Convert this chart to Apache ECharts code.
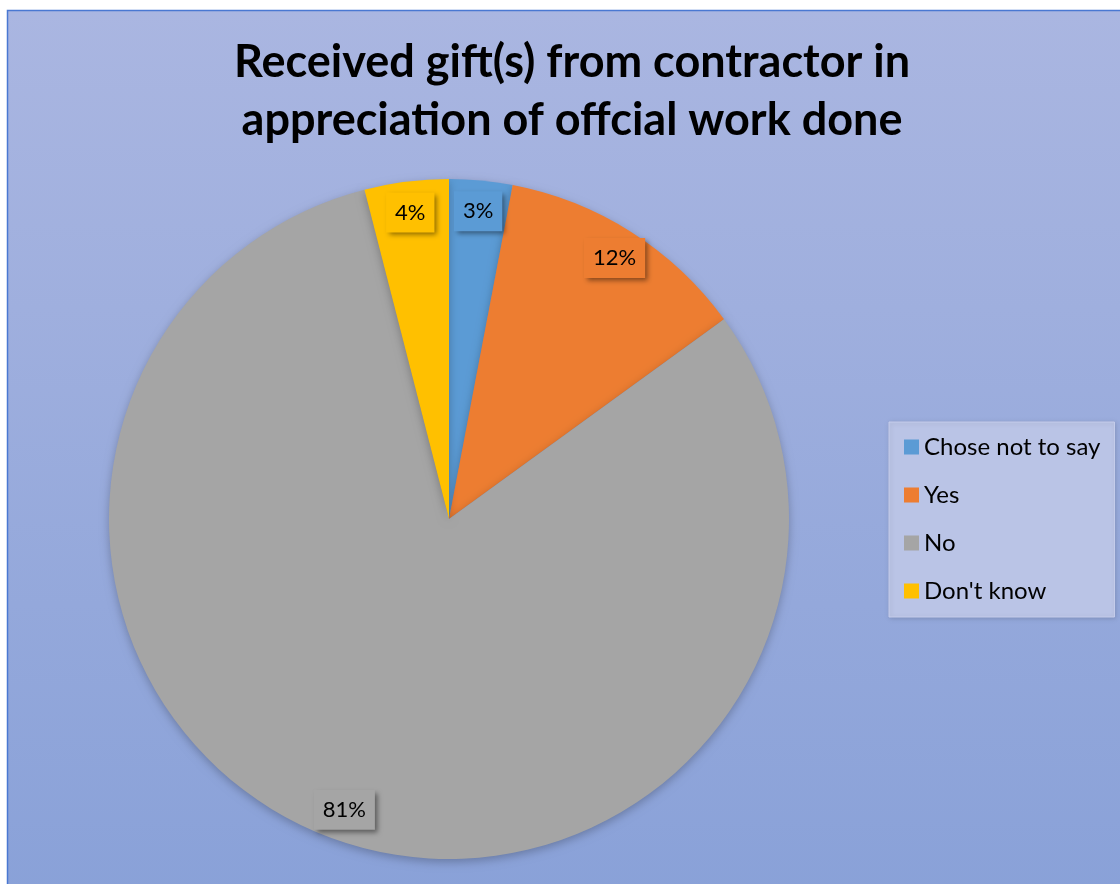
<!DOCTYPE html>
<html>
<head>
<meta charset="utf-8">
<script src="https://cdn.jsdelivr.net/npm/echarts@6/dist/echarts.min.js"></script>
<style>
  html, body { margin: 0; padding: 0; background: #ffffff; }
  #chart { width: 1120px; height: 884px; }
</style>
</head>
<body>
<div id="chart"></div>
<script>
// Survey answers and their shares (percent)
const categories = ['Chose not to say', 'Yes', 'No', "Don't know"];
const shares = [3, 12, 81, 4];
const sliceColors = ['#5b9bd5', '#ed7d31', '#a5a5a5', '#ffc000'];
const titleText = 'Received gift(s) from contractor in\nappreciation of offcial work done';

const pieData = categories.map((name, i) => ({ name: name, value: shares[i] }));
const fontFamily = 'Lato, "Open Sans", sans-serif';

const chart = echarts.init(document.getElementById('chart'));
chart.setOption({
  animation: false,
  color: sliceColors,
  graphic: [{
    type: 'rect',
    z: -10,
    silent: true,
    shape: { x: 7.5, y: 10.5, width: 1130, height: 890 },
    style: {
      fill: new echarts.graphic.LinearGradient(0, 0, 0, 1, [
        { offset: 0, color: '#aab6e1' },
        { offset: 1, color: '#89a1d8' }
      ]),
      stroke: '#4a78d2',
      lineWidth: 1.5
    }
  }],
  title: {
    text: titleText,
    left: 567,
    textAlign: 'center',
    top: 28,
    textStyle: {
      fontFamily: fontFamily,
      fontWeight: 'bold',
      fontSize: 45,
      lineHeight: 58,
      color: '#000000'
    }
  },
  legend: {
    orient: 'vertical',
    left: 889,
    top: 422,
    padding: [13, 14, 14, 15],
    itemGap: 24,
    itemWidth: 15,
    itemHeight: 15,
    icon: 'rect',
    backgroundColor: '#bac4e6',
    borderColor: '#c6cdeb',
    borderWidth: 1,
    shadowColor: 'rgba(0,0,0,0.15)',
    shadowBlur: 4,
    shadowOffsetX: 1,
    shadowOffsetY: 1,
    data: categories,
    textStyle: {
      fontFamily: fontFamily,
      fontSize: 24,
      lineHeight: 24,
      color: '#000000'
    }
  },
  series: [
    {
      // the visible slices
      type: 'pie',
      center: [449, 519],
      radius: [0, 340],
      startAngle: 90,
      clockwise: true,
      label: { show: false },
      labelLine: { show: false },
      emphasis: { disabled: true },
      itemStyle: {
        shadowColor: 'rgba(0,0,0,0.25)',
        shadowBlur: 10,
        shadowOffsetY: 3
      },
      data: pieData
    },
    {
      // outer ring that only carries the percentage labels near the rim
      type: 'pie',
      center: [449, 519],
      radius: [272, 340],
      startAngle: 90,
      clockwise: true,
      silent: true,
      itemStyle: { color: 'rgba(0,0,0,0)' },
      labelLine: { show: false },
      emphasis: { disabled: true },
      label: {
        show: true,
        position: 'inside',
        formatter: '{c}%',
        fontFamily: fontFamily,
        fontSize: 22,
        color: '#000000',
        padding: [10, 9, 8, 9],
        shadowColor: 'rgba(0,0,0,0.45)',
        shadowBlur: 5,
        shadowOffsetX: 3,
        shadowOffsetY: 3
      },
      data: pieData.map((d, i) => ({
        name: d.name,
        value: d.value,
        label: { backgroundColor: sliceColors[i] }
      }))
    }
  ]
});
</script>
</body>
</html>
